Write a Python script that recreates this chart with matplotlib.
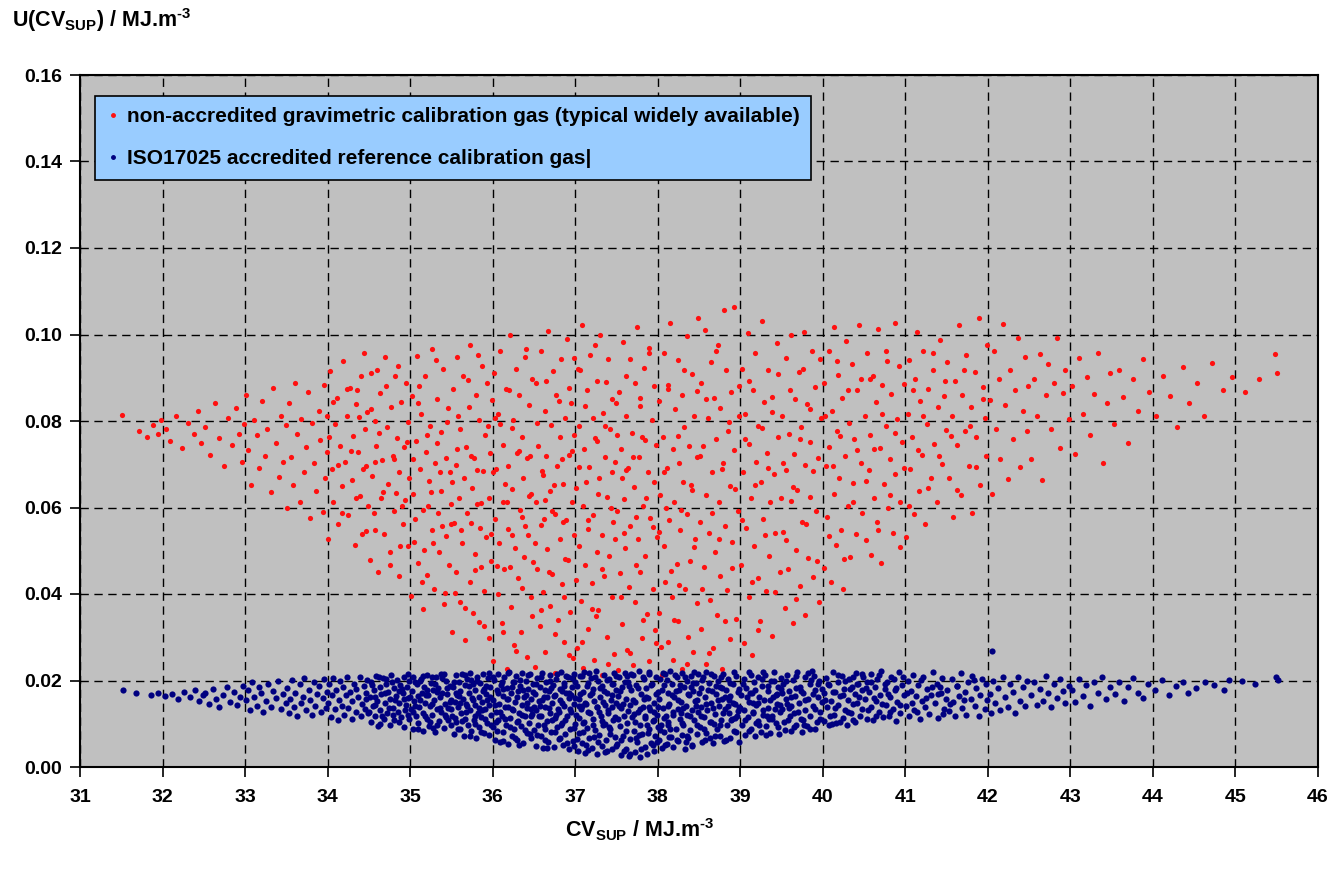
import numpy as np
import matplotlib
matplotlib.use('Agg')
import matplotlib.pyplot as plt
from matplotlib.lines import Line2D

plt.rcParams['font.family'] = ['Liberation Sans', 'DejaVu Sans']
plt.rcParams['font.weight'] = 'bold'
plt.rcParams['mathtext.fontset'] = 'custom'
plt.rcParams['mathtext.rm'] = 'Liberation Sans:bold'
plt.rcParams['mathtext.bf'] = 'Liberation Sans:bold'
plt.rcParams['mathtext.default'] = 'bf'

# points: x in 1/100 MJ.m-3, y in 1/10000 MJ.m-3
red_pts = np.array([
    3151,815, 3172,778, 3181,762, 3188,790, 3194,771, 3198,803,
    3204,782, 3209,754, 3216,811, 3224,738, 3231,795, 3238,769, 3243,822, 3247,748,
    3252,786, 3257,721, 3263,842, 3268,760, 3274,697, 3279,808, 3284,744, 3289,829, 3293,771, 3296,705, 3299,792,
    3301,861, 3304,734, 3307,652, 3311,803, 3314,768, 3317,691, 3321,846, 3324,719, 3327,782, 3331,635, 3334,877,
    3337,748, 3341,671, 3344,812, 3346,705, 3349,790,
    3351,598, 3353,842, 3356,716, 3358,653, 3361,889, 3363,771, 3366,612, 3368,805, 3371,683, 3374,740, 3376,867,
    3379,575, 3381,795, 3384,702, 3386,638, 3389,824, 3391,756, 3394,590, 3396,883, 3397,668, 3399,728, 3399,811,
    3401,527, 3403,916, 3405,688, 3407,612, 3409,793, 3411,854, 3413,561, 3415,742, 3417,649, 3419,938, 3421,705,
    3423,812, 3425,583, 3427,876, 3429,664, 3431,765, 3433,514, 3435,840, 3437,729, 3439,627, 3441,903, 3443,688,
    3445,782, 3447,546, 3448,821, 3449,603, 3444,958, 3436,871,
    3451,478, 3452,912, 3454,673, 3456,587, 3458,801, 3459,742, 3461,451, 3463,864, 3465,623, 3466,709, 3468,538,
    3470,947, 3472,786, 3473,655, 3475,497, 3477,833, 3479,718, 3480,592, 3482,904, 3484,761, 3486,442, 3487,681,
    3489,845, 3491,563, 3492,739, 3494,617, 3495,889, 3497,512, 3498,798, 3499,668, 3457,705, 3483,634,
    3501,395, 3502,858, 3504,632, 3505,521, 3507,754, 3508,951, 3510,472, 3512,689, 3513,817, 3515,366, 3516,594,
    3518,903, 3519,728, 3521,445, 3523,662, 3524,789, 3526,548, 3527,967, 3529,412, 3530,703, 3532,851, 3534,587,
    3535,498, 3537,774, 3538,639, 3540,921, 3541,378, 3543,715, 3544,534, 3546,829, 3547,467, 3548,681, 3549,607,
    3533,749, 3517,502, 3539,558,
    3551,312, 3552,873, 3553,564, 3555,698, 3556,451, 3557,947, 3559,623, 3560,381, 3561,782, 3563,519, 3564,905,
    3565,668, 3567,294, 3568,741, 3569,587, 3571,833, 3572,428, 3573,976, 3575,645, 3576,357, 3577,714, 3579,492,
    3580,861, 3581,608, 3583,803, 3584,335, 3585,553, 3587,927, 3588,684, 3589,406, 3591,767, 3592,531, 3593,889,
    3595,622, 3596,298, 3597,725, 3598,476, 3599,848, 3574,565, 3586,462,
    3601,246, 3602,912, 3603,573, 3604,688, 3606,401, 3607,817, 3608,519, 3609,962, 3611,334, 3612,745, 3613,612,
    3614,458, 3616,873, 3617,227, 3618,697, 3619,551, 3621,998, 3622,369, 3623,783, 3624,642, 3626,282, 3627,506,
    3628,921, 3629,727, 3631,437, 3632,859, 3633,594, 3634,311, 3636,764, 3637,668, 3638,486, 3639,947, 3641,255,
    3642,715, 3643,537, 3644,838, 3646,392, 3647,631, 3648,896, 3649,474, 3635,579, 3625,802, 3615,655, 3645,718,
    3651,231, 3652,887, 3653,612, 3654,458, 3655,743, 3657,326, 3658,961, 3659,559, 3660,684, 3661,405, 3663,822,
    3664,267, 3665,718, 3666,503, 3667,1008, 3669,372, 3670,637, 3671,791, 3672,446, 3673,915, 3675,218, 3676,584,
    3677,859, 3678,697, 3679,341, 3681,762, 3682,527, 3683,943, 3684,424, 3685,655, 3687,288, 3688,806, 3689,571,
    3690,989, 3691,479, 3693,721, 3694,358, 3695,842, 3696,613, 3697,253, 3698,768, 3699,536, 3662,574, 3674,651,
    3686,392, 3692,877,
    3701,645, 3702,276, 3703,921, 3704,512, 3705,788, 3707,384, 3708,1021, 3709,603, 3710,229, 3711,736, 3712,467,
    3714,872, 3715,551, 3716,318, 3717,694, 3718,952, 3720,425, 3721,807, 3722,583, 3723,247, 3724,761, 3726,496,
    3727,893, 3728,362, 3729,668, 3730,998, 3732,536, 3733,213, 3734,819, 3735,442, 3736,717, 3738,301, 3739,624,
    3740,944, 3741,487, 3742,782, 3744,394, 3745,851, 3746,566, 3747,262, 3748,705, 3749,841, 3713,658, 3725,348,
    3737,891, 3743,598,
    3751,592, 3752,224, 3753,867, 3754,448, 3756,735, 3757,331, 3758,983, 3759,619, 3760,506, 3761,812, 3763,271,
    3764,692, 3765,417, 3766,943, 3767,558, 3769,773, 3770,236, 3771,648, 3772,889, 3773,381, 3775,1017, 3776,527,
    3777,716, 3778,452, 3779,835, 3781,298, 3782,603, 3783,922, 3784,488, 3785,757, 3787,354, 3788,681, 3789,969,
    3790,244, 3791,575, 3793,803, 3794,412, 3795,659, 3796,881, 3797,316, 3798,744, 3799,531, 3762,687, 3774,579,
    3801,847, 3802,356, 3803,628, 3805,212, 3806,764, 3807,512, 3808,958, 3809,427, 3811,691, 3812,289, 3813,883,
    3814,571, 3815,1026, 3817,394, 3818,736, 3819,248, 3820,613, 3821,827, 3823,469, 3824,942, 3825,337, 3826,702,
    3827,548, 3829,861, 3830,226, 3831,659, 3832,785, 3833,412, 3835,997, 3836,584, 3837,301, 3838,743, 3839,476,
    3841,908, 3842,641, 3843,265, 3844,812, 3845,528, 3847,379, 3848,716, 3849,1038, 3810,599,
    3851,567, 3852,889, 3853,318, 3855,742, 3856,463, 3857,1011, 3858,628, 3859,238, 3861,806, 3862,541, 3863,387,
    3864,937, 3866,681, 3867,274, 3868,853, 3869,496, 3870,758, 3872,351, 3873,975, 3874,612, 3875,442, 3876,829,
    3878,227, 3879,703, 3880,1057, 3881,558, 3883,918, 3884,409, 3885,776, 3887,296, 3888,649, 3889,868, 3890,521,
    3892,1063, 3893,732, 3895,343, 3897,592, 3899,811,
    3901,468, 3902,921, 3903,683, 3905,287, 3906,817, 3907,552, 3909,1004, 3910,394, 3911,746, 3913,621, 3914,258,
    3915,872, 3917,511, 3918,957, 3919,705, 3921,437, 3922,789, 3924,338, 3925,658, 3926,1031, 3928,573, 3929,844,
    3931,406, 3932,726, 3934,919, 3935,489, 3936,612, 3938,302, 3939,856, 3941,677, 3942,540, 3944,981, 3946,764,
    3948,451, 3949,623,
    3951,812, 3952,543, 3954,367, 3955,946, 3956,687, 3958,458, 3959,771, 3961,615, 3962,998, 3964,332, 3965,724,
    3966,851, 3968,502, 3969,641, 3971,913, 3972,418, 3974,786, 3975,567, 3977,1006, 3978,698, 3979,351, 3981,839,
    3982,483, 3984,752, 3985,624, 3987,962, 3988,439, 3990,878, 3992,593, 3994,715, 3996,381, 3998,806,
    4001,461, 4002,887, 4004,695, 4005,579, 4007,962, 4008,741, 4010,428, 4011,824, 4013,632, 4014,1018, 4016,513,
    4017,778, 4019,906, 4020,668, 4022,547, 4023,853, 4025,411, 4027,719, 4028,985, 4030,604, 4032,796, 4033,486,
    4035,932, 4037,657, 4038,759, 4040,538, 4042,871, 4044,1021, 4046,703, 4048,588,
    4051,811, 4052,524, 4054,958, 4056,686, 4057,767, 4059,491, 4061,903, 4062,621, 4064,845, 4066,567, 4067,1012,
    4069,738, 4071,472, 4072,884, 4074,654, 4076,789, 4078,938, 4079,598, 4081,712, 4083,862, 4085,541, 4087,1026,
    4088,677, 4090,804, 4092,927, 4094,613, 4096,752, 4098,886,
    4101,532, 4103,817, 4104,941, 4106,688, 4108,763, 4110,584, 4112,896, 4114,1006, 4116,639, 4118,847, 4120,722,
    4122,961, 4124,561, 4126,793, 4128,874, 4131,668, 4133,917, 4135,746, 4138,612, 4140,832, 4142,988, 4145,701,
    4147,858, 4149,779,
    4151,936, 4153,668, 4156,812, 4158,577, 4160,893, 4162,745, 4165,1021, 4167,628, 4169,861, 4172,776, 4174,952,
    4177,695, 4179,832, 4181,587, 4184,914, 4186,764, 4189,1037, 4191,652, 4194,878, 4196,806, 4198,719, 4199,975,
    4202,848, 4205,631, 4207,962, 4210,781, 4213,897, 4215,712, 4218,1024, 4221,836, 4224,665, 4227,918, 4230,758,
    4233,871, 4236,992, 4239,693, 4242,824, 4245,947, 4247,776, 4249,882,
    4252,712, 4256,897, 4259,812, 4263,956, 4266,664, 4270,859, 4273,931, 4277,781, 4280,888, 4284,993, 4287,738,
    4291,864, 4294,917, 4298,804,
    4302,882, 4306,723, 4311,946, 4315,817, 4320,901, 4324,768, 4329,863, 4334,958, 4339,702, 4344,842, 4348,911,
    4353,792, 4359,917, 4364,856, 4370,749, 4376,896, 4382,822, 4388,944, 4395,868,
    4404,812, 4412,903, 4421,857, 4429,786, 4436,926, 4444,841,
    4453,887, 4462,812, 4471,934, 4485,871, 4496,902,
    4512,867, 4528,898, 4548,956, 4550,911,
    # denser core
    3402,762, 3406,843, 3412,698, 3418,587, 3424,874, 3428,731, 3434,623, 3438,809, 3442,538, 3446,697,
    3453,828, 3457,548, 3462,772, 3467,635, 3471,881, 3476,468, 3481,713, 3485,927, 3490,604, 3496,752, 3460,918,
    3488,512,
    3503,713, 3506,574, 3511,882, 3514,427, 3520,768, 3525,636, 3528,519, 3531,941, 3536,683, 3542,402, 3545,797,
    3549,562, 3509,842, 3522,604,
    3551,658, 3554,403, 3558,812, 3562,547, 3566,367, 3570,894, 3574,718, 3578,455, 3582,952, 3586,611, 3590,326,
    3594,789, 3598,539, 3557,735, 3581,686,
    3601,683, 3605,464, 3609,792, 3613,311, 3617,612, 3620,871, 3624,537, 3628,268, 3632,731, 3636,415, 3640,967,
    3644,626, 3648,349, 3603,808, 3621,462, 3639,557,
    3651,518, 3654,795, 3658,362, 3661,676, 3665,893, 3668,451, 3672,591, 3676,307, 3680,847, 3684,711, 3688,482,
    3692,259, 3696,731, 3699,946, 3663,617, 3685,566,
    3701,432, 3704,693, 3708,288, 3712,834, 3716,572, 3720,366, 3724,975, 3728,631, 3732,457, 3736,789, 3740,238,
    3744,681, 3748,527, 3706,917, 3726,754,
    3751,768, 3755,392, 3759,541, 3762,905, 3766,263, 3770,717, 3774,468, 3778,853, 3782,341, 3786,623, 3790,958,
    3794,556, 3798,287, 3757,668, 3781,762,
    3801,543, 3804,278, 3808,682, 3812,873, 3816,453, 3820,341, 3824,765, 3828,594, 3832,917, 3836,239, 3840,652,
    3844,508, 3848,869, 3826,421,
    3851,718, 3854,412, 3858,851, 3862,263, 3866,587, 3870,961, 3874,527, 3878,689, 3882,338, 3886,797, 3890,459,
    3894,643, 3898,882,
    3902,571, 3906,759, 3910,892, 3914,428, 3918,652, 3922,317, 3926,784, 3930,537, 3934,692, 3938,821, 3942,404,
    3946,908,
    3952,702, 3956,524, 3960,871, 3964,647, 3968,389, 3972,758, 3976,921, 3980,561, 3984,827, 3988,684, 3993,476,
    3997,943,
    4003,812, 4008,534, 4012,697, 4017,938, 4021,765, 4026,482, 4031,871, 4036,612, 4041,734, 4046,896,
    4052,662, 4057,897, 4062,736, 4067,548, 4072,817, 4077,962, 4082,628, 4087,773, 4093,508, 4098,691,
    4104,604, 4109,872, 4115,733, 4121,812, 4127,645, 4134,958, 4141,719, 4148,893, 4155,766, 4163,641, 4171,918,
    4178,789, 4186,693, 4194,851,
]).reshape(-1, 2)

blue_pts = np.array([
    3152,178, 3168,172, 3186,167, 3195,171,
    3203,164, 3211,169, 3219,158, 3226,174, 3233,161, 3239,178, 3244,153, 3249,167,
    3252,172, 3256,146, 3261,181, 3265,158, 3269,139, 3273,167, 3278,185, 3282,151, 3286,174, 3290,143, 3294,162,
    3298,188,
    3301,155, 3303,178, 3306,131, 3309,196, 3311,163, 3314,142, 3317,185, 3319,170, 3322,127, 3325,152, 3328,193,
    3331,138, 3334,176, 3337,160, 3340,199, 3343,134, 3346,168, 3349,147,
    3351,182, 3353,125, 3355,158, 3357,201, 3359,139, 3361,171, 3363,118, 3366,192, 3368,149, 3370,163, 3372,205,
    3374,131, 3377,177, 3379,154, 3381,121, 3383,196, 3385,142, 3387,168, 3390,187, 3392,128, 3394,159, 3396,203,
    3398,136, 3399,173,
    3401,148, 3402,191, 3404,116, 3405,167, 3407,205, 3409,133, 3410,178, 3412,109, 3414,156, 3415,198, 3417,142,
    3419,184, 3420,121, 3422,166, 3424,209, 3425,137, 3427,174, 3429,112, 3430,153, 3432,193, 3434,128, 3435,181,
    3437,161, 3439,207, 3440,118, 3442,146, 3444,188, 3445,134, 3447,170, 3448,201, 3449,125, 3446,157,
    3451,162, 3452,104, 3453,197, 3455,141, 3456,179, 3457,118, 3459,211, 3460,153, 3461,95, 3463,186, 3464,131,
    3465,168, 3467,206, 3468,112, 3469,147, 3471,193, 3472,124, 3473,174, 3475,98, 3476,158, 3477,213, 3479,137,
    3480,182, 3481,108, 3483,165, 3484,201, 3485,127, 3487,149, 3488,190, 3489,116, 3491,171, 3492,209, 3493,92,
    3495,144, 3496,184, 3497,121, 3498,160, 3499,198,
    3501,133, 3502,176, 3503,89, 3504,208, 3505,152, 3507,117, 3508,191, 3509,164, 3510,101, 3511,139, 3513,203,
    3514,172, 3515,84, 3516,126, 3517,186, 3518,148, 3520,112, 3521,213, 3522,167, 3523,95, 3524,140, 3525,195,
    3527,121, 3528,178, 3529,156, 3530,82, 3531,207, 3532,134, 3534,183, 3535,106, 3536,161, 3537,214, 3538,128,
    3539,172, 3541,91, 3542,146, 3543,199, 3544,115, 3545,168, 3546,137, 3548,188, 3549,98, 3550,155, 3526,209,
    3551,119, 3552,184, 3553,76, 3554,151, 3555,212, 3556,103, 3557,166, 3558,138, 3559,197, 3560,88, 3561,175,
    3562,124, 3563,215, 3564,157, 3565,71, 3566,189, 3567,112, 3568,146, 3569,203, 3570,96, 3571,171, 3572,131,
    3573,217, 3574,83, 3575,160, 3576,192, 3577,108, 3578,143, 3579,178, 3580,68, 3581,209, 3582,126, 3583,162,
    3584,93, 3585,195, 3586,116, 3587,150, 3588,214, 3589,79, 3590,181, 3591,135, 3592,168, 3593,101, 3594,205,
    3595,144, 3596,74, 3597,186, 3598,121,
    3601,154, 3601,92, 3602,201, 3603,63, 3604,128, 3605,177, 3606,216, 3607,108, 3608,146, 3609,57, 3610,190,
    3611,119, 3612,165, 3613,81, 3614,208, 3615,139, 3616,98, 3617,182, 3618,53, 3619,158, 3620,219, 3621,114,
    3622,171, 3623,72, 3624,133, 3625,196, 3626,88, 3627,151, 3628,211, 3629,104, 3630,62, 3631,175, 3632,126,
    3633,187, 3634,94, 3635,143, 3636,218, 3637,55, 3638,163, 3639,117, 3640,199, 3641,78, 3642,137, 3643,180,
    3644,101, 3645,215, 3646,66, 3647,157, 3648,123, 3649,192, 3650,86,
    3651,169, 3652,49, 3653,131, 3654,206, 3655,97, 3656,152, 3657,184, 3658,72, 3659,117, 3660,218, 3661,43,
    3662,161, 3663,139, 3664,89, 3665,197, 3666,107, 3667,58, 3668,176, 3669,125, 3670,212, 3671,81, 3672,148,
    3673,190, 3674,46, 3675,113, 3676,167, 3677,203, 3678,93, 3679,134, 3680,65, 3681,181, 3682,154, 3683,220,
    3684,102, 3685,52, 3686,141, 3687,194, 3688,76, 3689,171, 3690,119, 3691,209, 3692,41, 3693,159, 3694,87,
    3695,128, 3696,186, 3697,61, 3698,145, 3699,214, 3700,99, 3666,163, 3684,176,
    3701,121, 3702,188, 3703,38, 3704,157, 3705,79, 3706,211, 3707,134, 3708,56, 3709,173, 3710,102, 3711,219,
    3712,33, 3713,146, 3714,91, 3715,195, 3716,127, 3717,67, 3718,166, 3719,206, 3720,44, 3721,112, 3722,181,
    3723,152, 3724,85, 3725,221, 3726,31, 3727,138, 3728,198, 3729,73, 3730,162, 3731,118, 3732,49, 3733,187,
    3734,96, 3735,213, 3736,143, 3737,62, 3738,171, 3739,36, 3740,124, 3741,203, 3742,88, 3743,155, 3744,42,
    3745,191, 3746,109, 3747,217, 3748,70, 3749,148, 3750,177, 3708,140, 3736,99,
    3751,53, 3752,164, 3753,207, 3754,94, 3755,28, 3756,136, 3757,185, 3758,71, 3759,119, 3760,218, 3761,41,
    3762,157, 3763,102, 3764,196, 3765,26, 3766,143, 3767,64, 3768,178, 3769,115, 3770,212, 3771,84, 3772,35,
    3773,151, 3774,189, 3775,58, 3776,127, 3777,221, 3778,97, 3779,24, 3780,168, 3781,76, 3782,139, 3783,204,
    3784,47, 3785,113, 3786,182, 3787,31, 3788,160, 3789,89, 3790,215, 3791,132, 3792,55, 3793,193, 3794,106,
    3795,38, 3796,149, 3797,72, 3798,209, 3799,121, 3800,174,
    3801,62, 3802,158, 3803,203, 3804,96, 3805,44, 3806,137, 3807,189, 3808,81, 3809,216, 3810,118, 3811,53,
    3812,171, 3813,104, 3814,146, 3815,221, 3816,69, 3817,192, 3818,127, 3819,47, 3820,163, 3822,88, 3823,208,
    3824,134, 3825,59, 3826,179, 3827,112, 3828,151, 3829,74, 3830,218, 3831,97, 3832,186, 3833,41, 3834,142,
    3835,199, 3836,121, 3837,66, 3838,167, 3839,85, 3840,211, 3841,131, 3842,52, 3843,176, 3844,108, 3846,194,
    3847,77, 3848,155, 3849,214,
    3851,92, 3852,183, 3853,138, 3854,58, 3855,207, 3856,116, 3857,162, 3858,79, 3859,219, 3860,131, 3862,194,
    3863,67, 3864,149, 3865,103, 3866,176, 3867,56, 3868,211, 3869,122, 3870,168, 3872,88, 3873,199, 3874,141,
    3875,72, 3876,186, 3877,109, 3878,157, 3879,216, 3880,61, 3882,134, 3883,179, 3884,97, 3885,203, 3886,124,
    3887,66, 3888,164, 3890,112, 3891,191, 3892,83, 3894,146, 3895,210, 3896,118, 3897,173, 3898,57, 3899,139,
    3901,167, 3902,98, 3904,204, 3905,132, 3906,74, 3907,183, 3909,116, 3910,151, 3911,219, 3913,87, 3914,172,
    3915,128, 3917,196, 3918,71, 3919,143, 3921,106, 3922,209, 3923,161, 3925,82, 3926,187, 3927,121, 3929,154,
    3930,213, 3931,94, 3933,176, 3934,137, 3936,78, 3937,198, 3938,111, 3940,162, 3941,220, 3943,101, 3944,146,
    3946,185, 3947,76, 3948,127, 3949,206, 3945,169, 3932,119, 3916,148,
    3951,134, 3952,191, 3954,86, 3955,157, 3957,213, 3958,109, 3959,176, 3961,142, 3962,83, 3964,201, 3965,124,
    3966,165, 3968,97, 3969,219, 3971,148, 3972,186, 3974,112, 3975,82, 3976,172, 3978,131, 3979,208, 3981,94,
    3982,158, 3984,192, 3985,119, 3987,221, 3988,141, 3990,87, 3991,178, 3993,105, 3994,163, 3996,199, 3997,128,
    3999,151, 3989,211, 3960,117,
    4001,171, 4002,107, 4004,206, 4005,138, 4007,98, 4008,189, 4010,152, 4012,219, 4013,121, 4015,173, 4016,102,
    4018,197, 4019,143, 4021,164, 4023,211, 4024,114, 4026,181, 4027,131, 4029,96, 4031,156, 4032,203, 4034,125,
    4035,186, 4037,109, 4039,168, 4040,217, 4042,147, 4043,193, 4045,118, 4047,177, 4048,135, 4049,208,
    4051,158, 4053,197, 4054,112, 4056,174, 4058,139, 4059,216, 4061,108, 4063,185, 4064,152, 4066,203, 4068,127,
    4069,167, 4071,221, 4073,115, 4075,181, 4076,144, 4078,196, 4080,119, 4082,162, 4083,209, 4085,133, 4087,177,
    4089,107, 4090,151, 4092,219, 4094,124, 4096,189, 4098,166,
    4101,142, 4103,198, 4105,117, 4107,176, 4109,213, 4111,131, 4113,164, 4115,189, 4118,112, 4120,153, 4122,207,
    4124,138, 4126,181, 4129,122, 4131,166, 4133,219, 4136,147, 4138,193, 4140,114, 4143,171, 4145,205, 4147,134,
    4149,158, 4142,186,
    4151,178, 4153,129, 4156,203, 4158,151, 4160,117, 4162,188, 4165,164, 4167,218, 4169,137, 4172,174, 4174,121,
    4176,196, 4179,158, 4181,211, 4184,142, 4186,183, 4189,119, 4191,167, 4193,204, 4196,133, 4198,191, 4199,154,
    4202,169, 4204,124, 4206,198, 4209,147, 4205,268, 4212,183, 4215,131, 4218,209, 4221,161, 4224,139, 4227,192,
    4230,173, 4233,126, 4236,207, 4239,152, 4242,184, 4245,141, 4248,199,
    4252,167, 4256,196, 4259,143, 4263,181, 4267,152, 4270,211, 4273,171, 4277,138, 4280,192, 4284,159, 4287,204,
    4291,176, 4294,147, 4298,188,
    4302,178, 4306,151, 4311,203, 4315,164, 4319,189, 4324,142, 4328,196, 4333,171, 4338,208, 4343,157, 4348,185,
    4354,168, 4359,197, 4365,152, 4370,184, 4376,206, 4382,171, 4388,159, 4394,193,
    4403,178, 4411,201, 4419,166, 4428,187, 4436,196, 4443,172,
    4452,183, 4463,197, 4474,189, 4486,179, 4492,202,
    4508,199, 4524,193, 4549,208, 4551,201,
    # denser core
    3450,127, 3454,189, 3458,143, 3462,208, 3466,119, 3470,171, 3474,136, 3478,196, 3482,154, 3486,103, 3490,181,
    3494,132, 3498,214, 3457,163, 3463,99, 3471,203, 3479,121, 3487,176, 3493,157, 3499,112,
    3500,162, 3503,128, 3506,197, 3509,87, 3512,155, 3515,211, 3518,118, 3521,179, 3524,104, 3527,146, 3530,192,
    3533,96, 3536,137, 3539,205, 3542,121, 3545,183, 3548,151, 3506,142, 3519,166, 3528,91, 3533,174, 3541,215,
    3546,109, 3512,199,
    3550,134, 3553,196, 3556,172, 3558,89, 3561,148, 3563,106, 3566,213, 3568,127, 3571,187, 3573,72, 3576,155,
    3578,118, 3581,198, 3583,137, 3586,81, 3588,176, 3591,111, 3593,154, 3596,217, 3598,97, 3554,113, 3559,164,
    3569,142, 3574,201, 3579,99, 3587,132, 3592,188, 3597,161,
    3600,207, 3603,143, 3605,84, 3607,171, 3609,128, 3611,196, 3613,59, 3615,112, 3617,158, 3619,217, 3621,93,
    3623,184, 3625,131, 3627,68, 3629,163, 3631,107, 3633,202, 3635,121, 3637,179, 3639,86, 3641,149, 3643,213,
    3645,76, 3647,134, 3649,173, 3604,105, 3612,181, 3618,139, 3626,197, 3632,52, 3640,166, 3646,118,
    3650,138, 3652,191, 3654,73, 3656,119, 3658,207, 3660,154, 3662,96, 3664,178, 3666,45, 3668,136, 3670,199,
    3672,108, 3674,164, 3676,82, 3678,216, 3680,127, 3682,68, 3684,149, 3686,187, 3688,109, 3690,56, 3692,172,
    3694,133, 3696,205, 3698,91, 3700,159, 3657,142, 3663,63, 3671,183, 3677,121, 3683,98, 3689,211, 3695,167,
    3699,48,
    3700,196, 3702,64, 3704,113, 3706,169, 3708,211, 3710,82, 3712,147, 3714,187, 3716,39, 3718,124, 3720,172,
    3722,97, 3724,209, 3726,138, 3728,57, 3730,183, 3732,106, 3734,151, 3736,34, 3738,201, 3740,131, 3742,77,
    3744,166, 3746,193, 3748,115, 3750,48, 3705,142, 3711,104, 3717,218, 3723,69, 3729,128, 3735,176, 3741,92,
    3745,139, 3749,210, 3713,52,
    3752,112, 3754,176, 3756,62, 3758,145, 3760,197, 3762,84, 3764,129, 3766,30, 3768,215, 3770,156, 3772,103,
    3774,67, 3776,182, 3778,133, 3780,42, 3782,207, 3784,119, 3786,161, 3788,79, 3790,139, 3792,189, 3794,51,
    3796,108, 3798,168, 3800,92, 3753,142, 3759,36, 3765,187, 3771,122, 3777,73, 3783,158, 3789,219, 3795,127,
    3799,58, 3763,211, 3787,97,
    3800,139, 3803,86, 3805,179, 3807,113, 3809,52, 3811,201, 3813,142, 3815,88, 3817,166, 3819,121, 3821,213,
    3823,63, 3825,154, 3827,189, 3829,101, 3831,137, 3833,207, 3835,72, 3837,168, 3839,117, 3841,49, 3843,194,
    3845,152, 3847,96, 3849,128, 3806,217, 3814,69, 3822,176, 3828,124, 3834,57, 3840,186, 3846,141, 3812,98,
    3844,219,
    3850,171, 3852,119, 3854,202, 3856,87, 3858,146, 3861,178, 3863,104, 3865,214, 3867,137, 3869,71, 3871,188,
    3873,156, 3875,96, 3877,207, 3879,124, 3881,163, 3883,62, 3885,142, 3887,194, 3889,108, 3891,147, 3893,219,
    3895,81, 3897,129, 3899,181, 3857,63, 3868,99, 3878,182, 3886,154, 3894,113,
    3900,137, 3903,192, 3906,108, 3908,161, 3911,84, 3913,212, 3916,126, 3918,179, 3921,147, 3923,98, 3926,203,
    3928,131, 3931,75, 3933,187, 3936,154, 3938,119, 3941,199, 3943,166, 3946,92, 3948,143, 3912,171, 3919,102,
    3927,219, 3935,112, 3942,134, 3949,181,
    3950,172, 3953,104, 3956,198, 3959,136, 3962,163, 3965,92, 3967,211, 3970,127, 3973,176, 3976,109, 3979,154,
    3982,217, 3985,89, 3988,168, 3991,134, 3994,193, 3997,112, 3999,181, 3957,146, 3968,183, 3977,96, 3986,201,
    4003,156, 4006,193, 4009,118, 4012,174, 4015,137, 4018,212, 4021,103, 4024,166, 4027,199, 4030,128, 4033,181,
    4036,145, 4039,104, 4041,192, 4044,161, 4047,214, 4011,99, 4036,208,
    4052,183, 4055,132, 4058,197, 4062,159, 4065,117, 4068,212, 4072,146, 4075,192, 4079,168, 4082,127, 4086,203,
    4089,183, 4093,143, 4097,209,
    4102,172, 4108,149, 4114,127, 4119,201, 4125,159, 4132,184, 4139,168, 4146,122, 4154,146, 4163,187, 4171,155,
    4183,201,
]).reshape(-1, 2)

red_x = red_pts[:, 0] / 100
red_y = red_pts[:, 1] / 10000
blue_x = blue_pts[:, 0] / 100
blue_y = blue_pts[:, 1] / 10000

x_ticks = np.arange(31, 47, 1)
y_ticks = np.arange(0, 0.161, 0.02)
labels = ['non-accredited gravimetric calibration gas (typical widely available)',
          'ISO17025 accredited reference calibration gas|']

fig = plt.figure(figsize=(13.35, 8.69), dpi=100)
ax = fig.add_axes([80/1335, 102/869, 1238/1335, 692/869])
ax.set_facecolor('#C0C0C0')

ax.scatter(red_x, red_y, s=14, c='#FF1010', marker='o', linewidths=0, zorder=3)
ax.scatter(blue_x, blue_y, s=20, c='#000080', marker='o', linewidths=0, zorder=3)

ax.set_xlim(31, 46)
ax.set_ylim(0, 0.16)
ax.set_xticks(x_ticks)
ax.set_yticks(y_ticks)
ax.set_xticklabels([str(v) for v in x_ticks])
ax.set_yticklabels(['%.2f' % v for v in y_ticks])
ax.tick_params(direction='out', length=7, width=1.2, labelsize=14, pad=6)
ax.tick_params(axis='x', pad=9)
ax.grid(True, color='black', linestyle=(0, (6, 4)), linewidth=1.0)
ax.set_axisbelow(True)
for sp in ax.spines.values():
    sp.set_linewidth(1.5)

handles = [Line2D([], [], ls='none', marker='o', ms=2.5, color='#FF1010'),
           Line2D([], [], ls='none', marker='o', ms=2.5, color='#000080')]
leg = ax.legend(handles, labels, loc='upper left', bbox_to_anchor=(0.012, 0.97),
                fontsize=15, frameon=True, fancybox=False, framealpha=1,
                facecolor='#99CCFF', edgecolor='black', handlelength=0.6,
                handletextpad=0.4, labelspacing=1.1, borderpad=0.55, borderaxespad=0)
leg.get_frame().set_linewidth(1.2)

fig.text(12/1335, 1 - 20/869, 'U(CV$_{SUP}$) / MJ.m$^{\u20103}$', fontsize=15.5,
         fontweight='bold', ha='left', va='center')
fig.text(640/1335, 1 - 830/869, 'CV$_{SUP}$ / MJ.m$^{\u20103}$', fontsize=15.5,
         fontweight='bold', ha='center', va='center')

fig.savefig('out.png', dpi=100)
